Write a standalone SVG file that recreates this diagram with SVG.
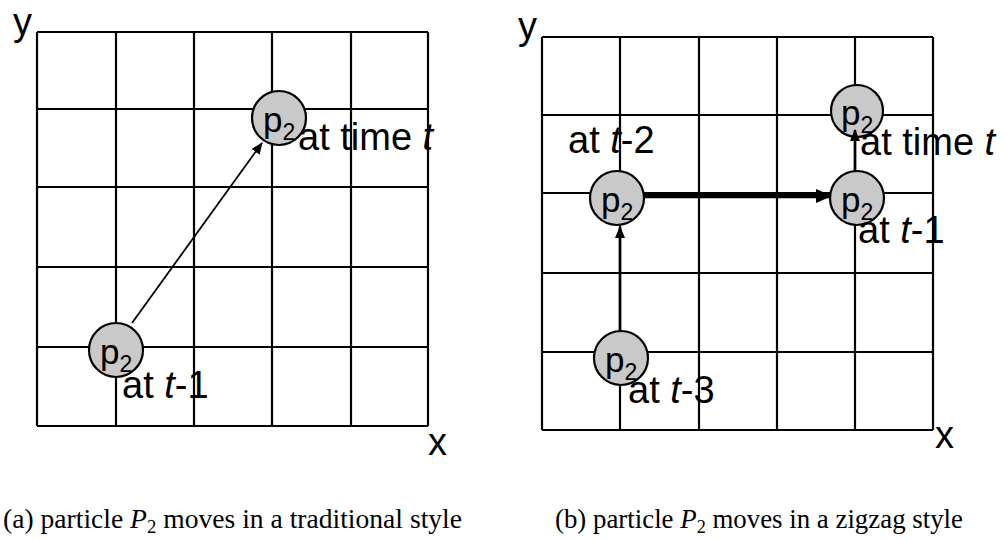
<svg xmlns="http://www.w3.org/2000/svg" width="1005" height="539" viewBox="0 0 1005 539">
<style>
.grid line{stroke:#000;stroke-width:2.2}
.lbl{font-family:"Liberation Sans",Arial,sans-serif;font-size:38px;fill:#000}
.p{font-family:"Liberation Sans",Arial,sans-serif;font-size:35px;fill:#000}
.sub{font-size:23px}
.dot{fill:#c9c9c9;stroke:#000;stroke-width:2.2}
.cap{font-family:"Liberation Serif","Times New Roman",serif;font-size:28px;fill:#000}
.conn line{stroke:#000}
</style>
<defs>
<marker id="ah" markerUnits="userSpaceOnUse" markerWidth="12" markerHeight="10" refX="11" refY="5" orient="auto"><path d="M0,0 L12,5 L0,10 Z" fill="#000"/></marker>
<marker id="ahb" markerUnits="userSpaceOnUse" markerWidth="16" markerHeight="14" refX="15" refY="7" orient="auto"><path d="M0,0 L16,7 L0,14 Z" fill="#000"/></marker>
</defs>
<rect width="1005" height="539" fill="#fff"/>

<!-- Panel (a) grid -->
<g class="grid" id="grid-a">
<line x1="37" y1="32" x2="37" y2="426"/><line x1="116" y1="32" x2="116" y2="426"/><line x1="194" y1="32" x2="194" y2="426"/><line x1="272" y1="32" x2="272" y2="426"/><line x1="351" y1="32" x2="351" y2="426"/><line x1="428" y1="32" x2="428" y2="426"/>
<line x1="37" y1="32" x2="428" y2="32"/><line x1="37" y1="109" x2="428" y2="109"/><line x1="37" y1="187" x2="428" y2="187"/><line x1="37" y1="267" x2="428" y2="267"/><line x1="37" y1="347" x2="428" y2="347"/><line x1="37" y1="426" x2="428" y2="426"/>
</g>
<text class="lbl" x="13" y="35">y</text>
<text class="lbl" x="428" y="455">x</text>

<!-- Panel (b) grid -->
<g class="grid" id="grid-b">
<line x1="542" y1="37" x2="542" y2="430"/><line x1="620" y1="37" x2="620" y2="430"/><line x1="699" y1="37" x2="699" y2="430"/><line x1="777" y1="37" x2="777" y2="430"/><line x1="855" y1="37" x2="855" y2="430"/><line x1="933" y1="37" x2="933" y2="430"/>
<line x1="542" y1="37" x2="933" y2="37"/><line x1="542" y1="115" x2="933" y2="115"/><line x1="542" y1="193" x2="933" y2="193"/><line x1="542" y1="273" x2="933" y2="273"/><line x1="542" y1="352" x2="933" y2="352"/><line x1="542" y1="430" x2="933" y2="430"/>
</g>
<text class="lbl" x="518" y="39">y</text>
<text class="lbl" x="935" y="448">x</text>

<!-- Nodes panel (a) -->
<g id="a-p2-t1">
<circle class="dot" cx="116" cy="350" r="27"/>
<text class="p" x="100" y="364">p<tspan class="sub" dy="8">2</tspan></text>
<text class="lbl" x="122" y="398">at <tspan font-style="italic">t</tspan>-1</text>
</g>
<g id="a-p2-t">
<circle class="dot" cx="279" cy="118" r="27"/>
<text class="p" x="263" y="132">p<tspan class="sub" dy="8">2</tspan></text>
<text class="lbl" x="298" y="150">at time <tspan font-style="italic">t</tspan></text>
</g>

<!-- Nodes panel (b) -->
<g id="b-p2-t3">
<circle class="dot" cx="621" cy="358" r="27"/>
<text class="p" x="605" y="372">p<tspan class="sub" dy="8">2</tspan></text>
<text class="lbl" x="628" y="403">at <tspan font-style="italic">t</tspan>-3</text>
</g>
<g id="b-p2-t2">
<text class="lbl" x="568" y="153">at <tspan font-style="italic">t</tspan>-2</text>
<circle class="dot" cx="617" cy="198" r="27"/>
<text class="p" x="601" y="212">p<tspan class="sub" dy="8">2</tspan></text>
</g>
<g id="b-p2-t1">
<circle class="dot" cx="857" cy="198" r="27"/>
<text class="p" x="841" y="212">p<tspan class="sub" dy="8">2</tspan></text>
<text class="lbl" x="858" y="243">at <tspan font-style="italic">t</tspan>-1</text>
</g>
<g id="b-p2-t">
<circle class="dot" cx="857" cy="111" r="26"/>
<text class="p" x="841" y="125">p<tspan class="sub" dy="8">2</tspan></text>
<text class="lbl" x="860" y="155">at time <tspan font-style="italic">t</tspan></text>
</g>

<!-- Connectors -->
<g class="conn" id="connectors">
<line x1="132" y1="323" x2="262" y2="143" stroke-width="1.8" marker-end="url(#ah)"/>
<line x1="620" y1="331" x2="620" y2="227" stroke-width="2.6" marker-end="url(#ah)"/>
<line x1="644" y1="196" x2="831" y2="196" stroke-width="4.5" marker-end="url(#ahb)"/>
<line x1="855" y1="171" x2="855" y2="130" stroke-width="2.6" marker-end="url(#ah)"/>
</g>

<!-- Captions -->
<text class="cap" x="3" y="528" textLength="459" lengthAdjust="spacingAndGlyphs">(a) particle <tspan font-style="italic">P</tspan><tspan font-size="19" dy="5">2</tspan><tspan dy="-5"> moves in a traditional style</tspan></text>
<text class="cap" x="555" y="528" textLength="408" lengthAdjust="spacingAndGlyphs">(b) particle <tspan font-style="italic">P</tspan><tspan font-size="19" dy="5">2</tspan><tspan dy="-5"> moves in a zigzag style</tspan></text>
</svg>
